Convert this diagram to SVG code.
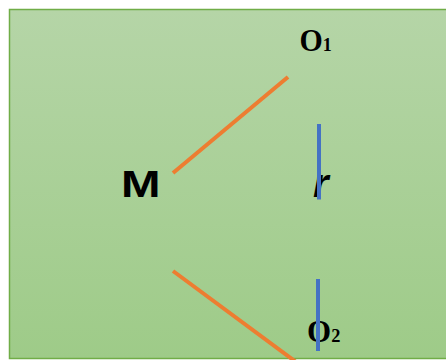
<svg xmlns="http://www.w3.org/2000/svg" width="446" height="360" viewBox="0 0 446 360">
<defs>
<linearGradient id="bg" x1="0" y1="0" x2="0" y2="1">
<stop offset="0" stop-color="#b5d5a7"/>
<stop offset="1" stop-color="#9ecb88"/>
</linearGradient>
<style>
.lbl{font-family:"Liberation Serif","Times New Roman",serif;font-weight:bold;fill:#000}
.sub{font-size:19px}
.sans{font-family:"Liberation Sans",Arial,sans-serif;font-weight:bold;fill:#000}
.or{stroke:#ed7d31;stroke-width:4;fill:none}
.bl{stroke:#4472c4;stroke-width:4;fill:none}
</style>
</defs>
<rect x="9.5" y="9.5" width="440" height="349" fill="url(#bg)" stroke="#70ad47" stroke-width="1.5"/>
<g id="M"><text class="sans" transform="translate(121,196.5) scale(1.3,1)" font-size="36.5">M</text></g>
<g id="r"><text class="sans" font-weight="normal" font-style="italic" x="313" y="197" font-size="40">r</text></g>
<g id="O1">
<text class="lbl" transform="translate(299.5,51) scale(0.95,1)" font-size="31.5">O<tspan class="sub">1</tspan></text>
</g>
<g id="O2">
<text class="lbl" transform="translate(307,342) scale(0.97,1)" font-size="32">O<tspan class="sub">2</tspan></text>
</g>
<g id="connectors">
<line class="or" x1="173" y1="173" x2="288" y2="77"/>
<line class="or" x1="173" y1="271" x2="296" y2="362"/>
<line class="bl" x1="319" y1="124" x2="319" y2="199.5"/>
<line class="bl" x1="318" y1="279" x2="318" y2="351"/>
</g>
</svg>
